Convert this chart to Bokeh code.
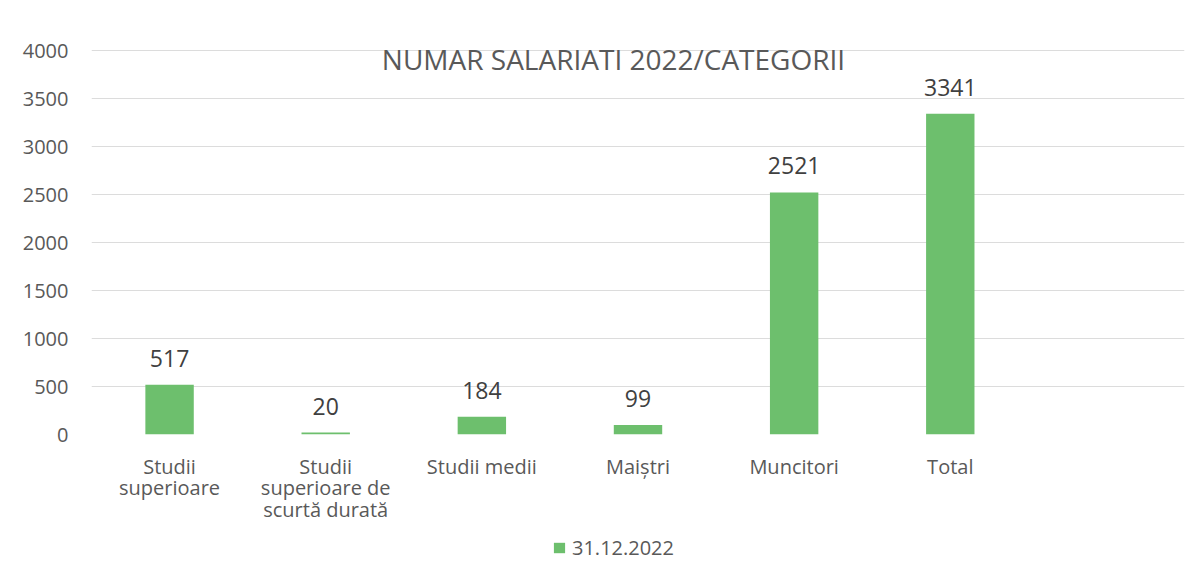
from bokeh.plotting import figure
from bokeh.layouts import column
from bokeh.models import FixedTicker, Label, Legend, LegendItem, ColumnDataSource, FactorRange
from bokeh.core.properties import value
from bokeh.embed import file_html
from bokeh.resources import INLINE

categories = ["Studii\nsuperioare", "Studii\nsuperioare de\nscurtă durată", "Studii medii",
              "Maiștri", "Muncitori", "Total"]
empty_slot = [" "]
values = [517, 20, 184, 99, 2521, 3341]
series_name = "31.12.2022"
title_text = "NUMAR SALARIATI 2022/CATEGORII"
y_ticks = [0, 500, 1000, 1500, 2000, 2500, 3000, 3500, 4000]

FONT = "Open Sans"
GREEN = "#6dbf6d"
GRAY = "#595959"

src = ColumnDataSource(dict(cat=categories, val=values, lab=[str(v) for v in values]))

# frame extends 30px above the 4000 gridline so the title sits inside it
p = figure(width=1198, height=530, x_range=categories + empty_slot, y_range=(0, 4312.5),
           output_backend="svg", toolbar_location=None,
           min_border_left=91, min_border_top=20, min_border_right=14, min_border_bottom=96)
p.outline_line_color = None
p.background_fill_color = "white"
p.border_fill_color = "white"

r = p.vbar(x="cat", top="val", width=0.31, source=src, fill_color=GREEN, line_color=None)
p.text(x="cat", y="val", text="lab", source=src, text_align="center", text_baseline="bottom",
       y_offset=-18, text_font=value(FONT), text_font_size="23px", text_color="#404040")

p.xgrid.grid_line_color = None
p.ygrid.grid_line_color = "#dcdcdc"
p.ygrid.grid_line_width = 1
p.yaxis.ticker = FixedTicker(ticks=y_ticks)

for ax in (p.xaxis[0], p.yaxis[0]):
    ax.axis_line_color = None
    ax.major_tick_line_color = None
    ax.minor_tick_line_color = None
    ax.major_label_text_font = FONT
    ax.major_label_text_color = GRAY
p.yaxis.major_label_text_font_size = "20px"
p.yaxis.major_label_standoff = 17
p.xaxis.major_label_text_font_size = "20px"
p.xaxis.major_label_standoff = 12
p.xaxis.major_label_text_line_height = 0.81

p.add_layout(Label(x=522, y=376, x_units="screen", y_units="screen", text=title_text,
                   text_align="center", text_baseline="middle", text_font=FONT,
                   text_font_size="28px", text_color=GRAY))

# legend strip below the chart (shares the bar data; renderer hidden, swatch shown)
p2 = figure(width=1198, height=49, output_backend="svg", toolbar_location=None,
            x_axis_type=None, y_axis_type=None, min_border=0,
            x_range=FactorRange(*(categories + empty_slot)), y_range=(0, 4000))
p2.outline_line_color = None
p2.grid.grid_line_color = None
swatch = p2.vbar(x="cat", top="val", width=0.31, source=src, fill_color=GREEN,
                 line_color=None, visible=False)
legend = Legend(items=[LegendItem(label=series_name, renderers=[swatch])], location=(461, 18),
                orientation="horizontal", glyph_width=14, glyph_height=13, padding=0,
                margin=0, label_standoff=6, border_line_color=None,
                background_fill_alpha=0, inactive_fill_alpha=0,
                label_text_font=FONT, label_text_font_size="20px", label_text_color=GRAY)
p2.add_layout(legend, "center")

open("out.html", "w").write(file_html(column(p, p2, spacing=0), INLINE))
